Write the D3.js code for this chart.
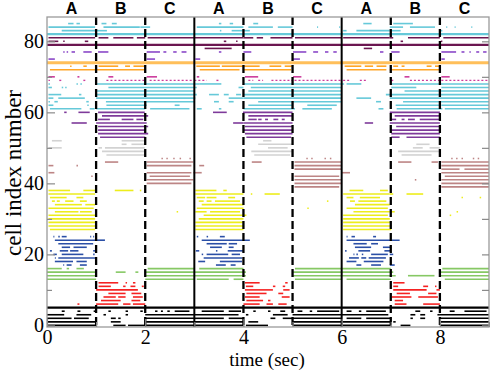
<!DOCTYPE html>
<html>
<head>
<meta charset="utf-8">
<script src="https://cdn.jsdelivr.net/npm/d3@7"></script>
<style>body{margin:0;background:#fff;}</style>
</head>
<body>
<div id="raster"></div>
<script>
// spike rows: [cell index, [[start sec, end sec], ...]]
const blackRows = [
  [5, [[0,9]]],
  [4, [[0.3,0.36],[0.62,0.68],[0.95,1.0],[1.25,1.3],[1.6,1.65],[1.9,1.95],[2.2,2.25],[2.32,2.36],[2.45,2.5],[2.6,2.9],[3.15,3.6],[3.7,3.95],[4.2,4.25],[4.5,4.55],[4.75,4.85],[5.1,5.2],[5.35,5.4],[5.5,5.95],[6.1,6.2],[6.35,6.4],[6.5,6.9],[7.5,7.6],[7.8,7.85],[8.2,8.3],[8.5,8.95]]],
  [3, [[0,0.35],[0.6,0.9],[1.15,1.2],[1.6,1.65],[2,3],[3,3.9],[4.05,4.1],[4.6,4.9],[5,6],[6,6.95],[7.4,7.5],[7.6,7.7],[7.95,8],[8,9]]],
  [2, [[0,0.5],[0.55,0.85],[1.3,1.4],[1.45,1.5],[2,3],[3,3.6],[3.7,4],[4.55,4.65],[4.8,5],[5,6],[6.1,6.4],[6.5,7],[7.4,7.45],[7.6,7.7],[8,9]]],
  [1, [[0,1],[1.3,1.5],[2,3],[3,4],[4.1,4.3],[5,6],[6,7],[7.05,7.1],[8,9]]],
  [0, [[0,1],[1.35,1.6],[1.65,2],[2,3],[3,4],[4.05,4.5],[5,6],[6,7],[7.2,7.4],[8,9]]]
];
const redRows = [
  [12, [[1.05,1.45],[1.6,1.63],[1.75,1.8],[4.03,4.33],[4.85,4.9],[7.05,7.28]]],
  [11, [[1.05,1.3],[1.55,1.6],[1.7,1.8],[1.93,1.97],[4.05,4.2],[4.6,4.65],[4.8,4.85],[7.05,7.15],[7.66,7.76],[7.9,7.93]]],
  [10, [[1.0,1.85],[4.03,4.6],[4.81,4.94],[7.05,7.73],[7.93,8.0]]],
  [9, [[1.25,1.6],[1.72,1.92],[4.06,4.47],[4.71,4.81],[7.12,7.39],[7.76,7.93]]],
  [8, [[1.15,1.4],[1.45,1.6],[1.75,1.95],[4.03,4.33],[4.78,4.94],[7.02,7.42],[7.56,7.96]]],
  [7, [[1.1,1.5],[1.72,1.9],[4.06,4.4],[4.5,4.55],[7.08,7.25]]],
  [6, [[0.62,0.66],[1.0,1.45],[1.55,1.7],[1.75,2.0],[4.0,4.33],[4.47,4.6],[4.71,4.88],[7.08,7.32],[7.66,8.0]]]
];
const greenRows = [
  [16, [[0.0,0.3],[0.4,0.45],[0.6,0.75],[2.05,3.0],[3.1,4.0],[5.05,6.0],[6.0,7.0],[8.05,9.0]]],
  [15, [[0,1.0],[1.4,1.6],[1.8,1.86],[2.0,3.0],[3.0,4.05],[5.0,6.0],[6.0,7.05],[8.0,9.0]]],
  [14, [[0,1.0],[2.0,3.0],[3.0,4.05],[5.0,6.0],[6.0,7.1],[7.35,7.89],[8.0,9.0]]],
  [13, [[0,1.0],[2.0,3.0],[3.05,3.7],[3.8,4.0],[5.05,6.0],[6.1,7.0],[8.1,9.0]]]
];
const blueRows = [
  [25, [[0.13,0.15],[0.23,0.26],[0.3,0.4],[0.88,0.9],[0.94,0.96],[3.05,3.08],[3.25,3.28],[3.52,3.62],[6.1,6.12],[6.2,6.27],[6.64,6.7]]],
  [24, [[0.16,1.0],[1.0,1.18],[3.15,4.13],[6.1,7.18]]],
  [23, [[0.23,0.94],[3.25,3.66],[3.7,3.87],[6.24,6.51],[6.6,6.74]]],
  [22, [[0.3,0.47],[0.54,0.81],[3.32,3.56],[3.7,3.8],[6.27,6.6],[6.84,7.0]]],
  [21, [[0.06,0.1],[0.26,0.43],[0.47,0.64],[0.94,1.0],[3.03,3.1],[3.44,3.47],[3.68,4.0],[6.07,6.1],[6.34,6.58],[6.87,7.0]]],
  [20, [[0.13,0.2],[0.3,0.74],[0.94,0.97],[3.15,3.18],[3.25,3.69],[3.76,3.93],[6.24,6.26],[6.3,6.33],[6.41,6.44],[6.6,6.94],[6.98,7.05]]],
  [19, [[0.16,0.18],[0.23,1.0],[3.19,3.97],[6.15,6.35],[6.4,6.5],[6.55,6.9]]],
  [18, [[0.16,0.53],[0.6,0.81],[3.08,3.22],[3.52,3.97],[6.1,6.3],[6.45,6.85]]],
  [17, [[0.33,0.35],[0.4,0.5],[0.67,0.81],[3.44,3.64],[3.74,3.84],[6.3,6.4],[6.6,6.8],[6.98,7.08]]]
];
const yellowRows = [
  [38, [[0.03,0.47],[0.74,0.98],[1.38,1.76],[1.89,1.92],[3.02,3.45],[3.59,3.66],[6.16,6.44],[6.78,6.94]]],
  [37, [[0.03,0.98],[3.02,4.0],[4.15,4.18],[4.43,4.74],[6.03,6.98],[6.98,7.05],[7.32,7.66]]],
  [36, [[0.06,0.4],[0.6,0.74],[3.05,3.22],[3.25,3.45],[3.69,3.83],[6.1,6.24],[6.37,6.78],[8.44,8.47],[8.81,8.84]]],
  [35, [[0.1,0.16],[0.2,0.26],[0.37,0.54],[0.67,0.81],[3.09,3.19],[3.25,3.35],[3.42,3.93],[5.7,5.73],[6.17,6.27],[6.34,6.91]]],
  [34, [[0.16,0.71],[0.78,0.98],[3.15,4.0],[6.27,6.98]]],
  [33, [[0.03,0.95],[3.05,4.0],[5.3,5.33],[6.1,6.94]]],
  [32, [[0.16,0.64],[0.67,0.91],[2.64,2.67],[3.02,3.25],[3.32,3.93],[6.24,6.98],[6.98,7.08],[8.34,8.37]]],
  [31, [[0.03,0.98],[3.19,4.06],[6.03,6.94],[8.2,8.23]]],
  [30, [[0.03,0.98],[3.09,4.0],[6.03,6.98]]],
  [29, [[0.03,0.98],[3.02,4.0],[6.03,7.01]]],
  [28, [[0.03,0.98],[3.02,4.0],[6.03,7.01]]],
  [27, [[0.06,0.98],[3.02,4.0],[6.03,7.01]]]
];
const brownRows = [
  [47, [[2.33,2.36],[2.43,2.46],[2.57,2.6],[2.7,2.73],[2.9,2.93],[5.28,5.31],[5.38,5.41],[5.65,5.68],[5.76,5.79],[8.23,8.26],[8.33,8.36],[8.44,8.47],[8.67,8.7],[8.77,8.8]]],
  [46, [[1.18,1.45],[2.03,2.98],[4.17,4.37],[5.04,6.0],[7.15,7.42],[7.83,7.96],[8.03,9.0]]],
  [45, [[0.03,0.13],[0.6,0.63],[2.03,2.94],[3.1,3.2],[5.04,6.0],[8.03,9.0]]],
  [44, [[5.04,6.0],[8.03,8.4],[8.5,9.0]]],
  [43, [[0.03,0.15],[2.03,2.94],[2.98,3.15],[6.0,6.17],[8.03,9.0]]],
  [42, [[0.9,0.93],[2.09,2.91],[5.04,5.95],[8.1,9.0]]],
  [41, [[2.03,2.98],[5.04,6.0],[7.49,7.52],[8.03,9.0]]],
  [40, [[2.03,2.94],[5.04,6.0],[8.03,9.0]]],
  [39, [[5.04,5.95],[8.03,9.0]]]
];
const greyRows = [
  [52, [[0.1,0.3],[1.52,1.99],[4.4,4.57]]],
  [51, [[1.52,1.62],[1.72,1.99],[4.3,5.0],[7.52,7.79]]],
  [50, [[0.03,0.3],[1.05,1.12],[1.18,1.99],[4.5,4.9],[7.45,7.65],[7.79,8.0]]],
  [49, [[1.12,1.99],[4.16,5.0],[7.15,8.0]]],
  [48, [[1.21,1.99],[4.22,4.95],[7.22,7.83]]]
];
const purpleRows = [
  [60, [[0.35,0.4],[0.64,0.87],[1.04,1.99],[3.38,3.66],[3.99,5.0],[6.98,8.0]]],
  [59, [[1.12,2.06],[4.1,5.0],[7.08,8.0]]],
  [58, [[1.04,1.28],[1.52,1.76],[1.82,1.96],[4.1,4.27],[4.3,4.37],[4.44,4.5],[4.61,4.71],[4.78,4.84],[7.01,7.11],[7.22,7.28],[7.35,7.49],[7.59,8.0]]],
  [57, [[0.5,0.81],[1.0,2.03],[3.79,4.0],[4.0,5.0],[6.47,6.64],[6.98,8.0]]],
  [56, [[1.04,2.06],[4.03,5.0],[7.11,8.0]]],
  [55, [[1.04,2.0],[4.0,5.0],[7.01,8.0]]],
  [54, [[1.04,2.06],[4.03,5.0],[7.01,8.0]]],
  [53, [[1.08,2.0],[4.06,4.97],[7.01,7.18],[7.32,8.0]]]
];
const cyanRows = [
  [85, [[0.43,0.54],[0.6,0.67],[1.11,1.21],[1.32,1.42],[3.5,3.55],[3.72,3.79],[4.2,4.3],[6.44,6.61],[7.05,7.45]]],
  [84, [[0.03,0.98],[1.15,1.89],[1.9,2.1],[3.05,4.0],[4.1,4.6],[4.7,5.0],[5.5,5.52],[5.95,5.97],[6.98,7.25],[7.39,7.9],[8.13,8.15],[8.3,8.32],[8.64,8.66]]],
  [83, [[0.3,0.98],[1.0,1.22],[3.52,3.55],[3.76,4.13],[6.03,6.1],[6.3,6.98],[6.98,7.2],[8.0,8.05]]],
  [82, [[0,9]]],
  [68, [[0.03,0.06],[0.6,0.63],[0.68,0.71],[1.02,3.1],[3.1,3.55],[4.0,6.05],[6.1,6.4],[7.0,9.0]]],
  [67, [[0.03,0.1],[0.3,0.33],[0.37,0.4],[1.25,3.05],[3.9,4.0],[4.15,6.0],[7.01,7.52],[8.03,9.0]]],
  [66, [[1.0,3.0],[4.1,6.0],[7.28,9.0]]],
  [65, [[0.03,0.29],[0.65,0.7],[1.0,3.05],[3.3,3.5],[3.6,3.7],[3.85,3.95],[4.0,6.0],[6.9,9.0]]],
  [64, [[0.03,0.13],[0.23,0.77],[1.0,3.02],[3.7,4.0],[4.0,6.0],[6.3,6.6],[6.98,9.0]]],
  [63, [[0.03,0.06],[0.15,0.22],[0.8,0.85],[1.2,3.0],[3.4,3.5],[3.7,3.8],[4.3,6.0],[6.7,6.8],[7.25,9.0]]],
  [62, [[0.03,0.13],[0.82,0.85],[1.21,2.03],[2.6,2.7],[4.1,5.0],[5.3,5.9],[7.1,8.0],[8.03,9.0]]],
  [61, [[0.06,0.7],[0.87,0.97],[1.0,2.0],[2.1,2.9],[3.05,3.15],[3.5,3.55],[4.0,5.05],[5.2,5.8],[6.75,6.85],[7.12,8.05],[8.1,9.0]]]
];
const magentaRows = [
  [70, [[0.03,0.16],[0.62,0.66],[1.25,1.35],[2.03,2.24],[3.05,3.1],[4.03,4.3],[5.01,5.18],[7.28,7.38],[8.03,8.2]]]
];
const magentaDotted = [
  [69, [[0.03,0.06],[0.25,0.32],[0.74,0.78],[1.21,2.0],[2.09,2.95],[3.0,3.25],[3.45,3.5],[4.1,4.2],[4.3,4.4],[4.57,5.0],[5.04,6.0],[6.03,6.17],[6.37,6.5],[7.01,7.08],[7.39,8.0],[8.03,9.0]]]
];
const orangeRows = [
  [74, [[0,9]]],
  [73, [[0.47,0.5],[0.74,0.81],[1.05,1.45],[1.59,1.69],[1.76,1.99],[3.04,3.52],[3.56,4.0],[4.0,4.33],[4.53,4.77],[4.84,5.0],[6.06,6.4],[6.47,6.64],[6.71,6.91],[7.05,7.15],[7.22,7.28],[7.73,7.83],[7.9,8.0]]],
  [72, [[0.06,0.98],[1.0,2.0],[3.11,3.92],[4.0,4.97],[6.1,6.91],[6.98,8.0]]]
];
const violetRows = [
  [77, [[0.33,0.36],[0.4,0.43],[0.5,0.57],[0.74,0.91],[1.04,1.25],[2.03,2.3],[2.37,2.43],[2.57,2.64],[2.74,2.84],[3.5,3.55],[4.0,4.16],[5.01,5.28],[5.42,5.52],[5.66,5.73],[5.83,5.9],[6.78,6.85],[7.01,7.18],[8.03,8.33],[8.44,8.5],[8.6,8.63],[8.74,8.8],[8.88,8.95]]],
  [75, [[0.03,0.16],[2.03,2.2],[3.02,3.12],[5.01,5.15],[8.03,8.1]]]
];
const plumRows = [
  [81, [[0.03,0.98],[1.05,1.25],[1.35,1.76],[1.83,2.0],[2.05,3.0],[3.0,4.0],[4.0,4.2],[4.27,4.4],[4.55,5.0],[5.05,6.0],[6.03,6.98],[6.98,7.05],[7.35,8.0],[8.07,9.0]]],
  [80, [[0.03,0.23],[0.33,0.36],[0.77,0.84],[3.6,3.65],[3.85,3.88],[7.2,7.25],[8.02,8.05]]],
  [79, [[0,9]]],
  [78, [[3.21,3.76],[6.45,6.62]]]
];

const epochLabels = ['A','B','C','A','B','C','A','B','C'];
const boundaries = [1,2,3,4,5,6,7,8];
const xTicks = [0,2,4,6,8];
const xMinor = [1,3,5,7,9];
const yTicks = [0,20,40,60,80];
const yMinor = [10,30,50,70];

const palette = {
  black:'#000000', red:'#f52222', green:'#86c864', blue:'#2b4fa6', yellow:'#eded1c',
  brown:'#bd8585', grey:'#d2d2d2', purple:'#7e3a9a', cyan:'#66c9d9', magenta:'#cc3c9c',
  orange:'#ffa629', violet:'#8a48c8', plum:'#6b1650'
};
const groups = [
  {name:'black', rows:blackRows}, {name:'red', rows:redRows}, {name:'green', rows:greenRows},
  {name:'blue', rows:blueRows}, {name:'yellow', rows:yellowRows}, {name:'brown', rows:brownRows},
  {name:'grey', rows:greyRows}, {name:'purple', rows:purpleRows}, {name:'cyan', rows:cyanRows},
  {name:'magenta', rows:magentaRows}, {name:'orange', rows:orangeRows}, {name:'violet', rows:violetRows},
  {name:'plum', rows:plumRows}
];

const width = 490, height = 371;
const margin = {top:17, right:1, bottom:44, left:47};

const svg = d3.select('#raster')
              .append('svg')
              .attr('width', width)
              .attr('height', height)
              .style('font-family', '"Liberation Serif", "Times New Roman", serif');

const x = d3.scaleLinear().domain([0,9]).range([margin.left, width-margin.right]);
const y = d3.scaleLinear().domain([-0.45,86.85]).range([height-margin.bottom, margin.top]);

let segs = [];
groups.forEach(g => {
  g.rows.forEach(([cell, list]) => {
    list.forEach(s => segs.push({cell:cell, s:s[0], e:s[1], color:palette[g.name], full:(s[1]-s[0])>=9}));
  });
});

svg.append('g')
   .selectAll('line')
   .data(segs)
   .join('line')
   .attr('x1', d=>x(d.s))
   .attr('x2', d=>x(d.e))
   .attr('y1', d=>y(d.cell))
   .attr('y2', d=>y(d.cell))
   .attr('stroke', d=> (d.full && d.color==palette.orange) ? '#ffbf5a' : d.color)
   .attr('stroke-width', d=> d.full ? (d.color==palette.orange ? 3 : 2.2) : 1.6);

let dotted = [];
magentaDotted.forEach(([cell, list]) => list.forEach(s => dotted.push({cell:cell, s:s[0], e:s[1]})));
svg.append('g')
   .selectAll('line')
   .data(dotted)
   .join('line')
   .attr('x1', d=>x(d.s))
   .attr('x2', d=>x(d.e))
   .attr('y1', d=>y(d.cell))
   .attr('y2', d=>y(d.cell))
   .attr('stroke', palette.magenta)
   .attr('stroke-width', 1.4)
   .attr('stroke-dasharray', '2,2');

// epoch boundaries: solid every third second, dashed otherwise
svg.append('g')
   .selectAll('line')
   .data(boundaries)
   .join('line')
   .attr('x1', d=>x(d))
   .attr('x2', d=>x(d))
   .attr('y1', margin.top)
   .attr('y2', height-margin.bottom)
   .attr('stroke', '#000')
   .attr('stroke-width', d=> d%3==0 ? 2 : 2.3)
   .attr('stroke-dasharray', d=> d%3==0 ? null : '8,4');

// frame
svg.append('rect')
   .attr('x', margin.left)
   .attr('y', margin.top)
   .attr('width', width-margin.right-margin.left)
   .attr('height', height-margin.bottom-margin.top)
   .attr('fill', 'none')
   .attr('stroke', '#9a9a9a')
   .attr('stroke-width', 1.3);

function styleAxis(g){
  g.select('.domain').remove();
  g.selectAll('.tick line').attr('stroke', '#8a8a8a').attr('stroke-width', 1.2);
  g.selectAll('.tick text').attr('font-size', 20).attr('font-family', '"Liberation Serif", serif').attr('fill', '#000');
}

svg.append('g')
   .attr('transform', 'translate(' + margin.left + ',0)')
   .call(d3.axisLeft(y).tickValues(yTicks).tickSize(-8).tickPadding(3))
   .call(styleAxis);
svg.append('g')
   .attr('transform', 'translate(' + margin.left + ',0)')
   .call(d3.axisLeft(y).tickValues(yMinor).tickSize(-5).tickFormat(''))
   .call(styleAxis);
svg.append('g')
   .attr('transform', 'translate(' + (width-margin.right) + ',0)')
   .call(d3.axisRight(y).tickValues(yTicks.concat(yMinor)).tickSize(-7).tickFormat(''))
   .call(styleAxis);
svg.append('g')
   .attr('transform', 'translate(0,' + (height-margin.bottom) + ')')
   .call(d3.axisBottom(x).tickValues(xTicks).tickSize(-8).tickPadding(3).tickFormat(d3.format('d')))
   .call(styleAxis);
svg.append('g')
   .attr('transform', 'translate(0,' + (height-margin.bottom) + ')')
   .call(d3.axisBottom(x).tickValues(xMinor).tickSize(-5).tickFormat(''))
   .call(styleAxis);

// epoch letters on top
svg.append('g')
   .selectAll('text')
   .data(epochLabels)
   .join('text')
   .attr('x', (d,i)=>x(i+0.5))
   .attr('y', 14)
   .style('text-anchor', 'middle')
   .style('font-family', '"Liberation Sans", Arial, sans-serif')
   .style('font-weight', 'bold')
   .style('font-size', '16px')
   .text(d=>d);

svg.append('text')
   .attr('x', (margin.left + width - margin.right)/2 - 1)
   .attr('y', 366)
   .style('text-anchor', 'middle')
   .style('font-size', '19px')
   .text('time (sec)');

svg.append('text')
   .attr('transform', 'translate(21,' + 173 + ') rotate(-90)')
   .style('text-anchor', 'middle')
   .style('font-size', '23px')
   .text('cell index number');
</script>
</body>
</html>
